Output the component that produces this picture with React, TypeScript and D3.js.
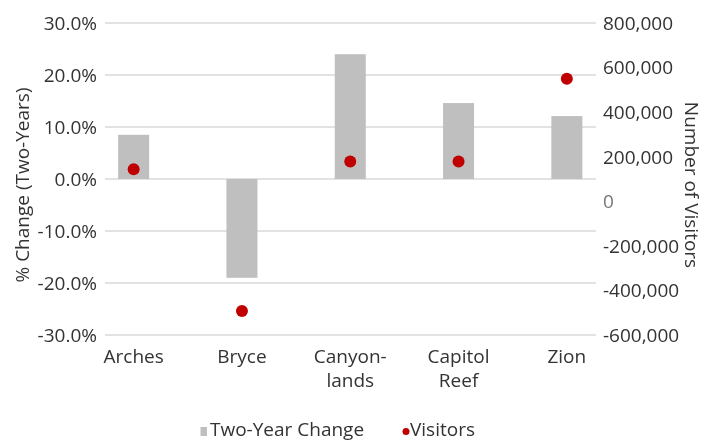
import React from "react";
import * as d3 from "d3";

const parks = ["Arches", "Bryce", "Canyon-lands", "Capitol Reef", "Zion"];
const parkLines = [["Arches"], ["Bryce"], ["Canyon-", "lands"], ["Capitol", "Reef"], ["Zion"]];
const twoYearChange = [0.085, -0.19, 0.24, 0.146, 0.121];
const visitors = [144000, -492000, 178000, 178000, 550000];
const pctTicks = [-0.3, -0.2, -0.1, 0, 0.1, 0.2, 0.3];
const visitorTicks = [-600000, -400000, -200000, 0, 200000, 400000, 600000, 800000];

const W = 704;
const H = 442;
const top = 23;
const bottom = 335;
const gridLeft = 105;
const gridRight = 596;
const font = "'Open Sans', 'Noto Sans', sans-serif";
const textColor = "#333";
const fs = 19;

// hyphen instead of d3's unicode minus, like the original
const hyphen = (s: string) => s.replace("\u2212", "-");

const App = () => {
  const x = d3.scaleBand().domain(parks).range([79.5, 621]).paddingInner(0.71).paddingOuter(0.355);
  const yPct = d3.scaleLinear().domain([-0.3, 0.3]).range([bottom, top]);
  const yVis = d3.scaleLinear().domain([-600000, 800000]).range([bottom, top]);
  const pctFmt = d3.format(".1%");
  const visFmt = d3.format(",");
  const barW = 31;
  const cx = (p: string) => x(p)! + x.bandwidth() / 2;

  return (
    <div style={{ position: "fixed", left: 0, top: 0, width: W, height: H, overflow: "hidden" }}>
      <svg width={W} height={H} style={{ display: "block", fontFamily: font }}>
        {/* gridlines */}
        {pctTicks.map((t) => (
          <line key={t} x1={gridLeft} x2={gridRight} y1={yPct(t)} y2={yPct(t)} stroke="#d9d9d9" strokeWidth={1.3} />
        ))}

        {/* bars */}
        {parks.map((p, i) => {
          const v = twoYearChange[i];
          return (
            <rect
              key={p}
              x={cx(p) - barW / 2}
              width={barW}
              y={Math.min(yPct(v), yPct(0))}
              height={Math.abs(yPct(v) - yPct(0))}
              fill="#bfbfbf"
            />
          );
        })}

        {/* visitor dots */}
        {parks.map((p, i) => (
          <circle key={p} cx={cx(p)} cy={yVis(visitors[i])} r={6} fill="#c00000" />
        ))}

        {/* left axis labels */}
        {pctTicks.map((t) => (
          <text key={t} x={97} y={yPct(t)} dy="0.36em" textAnchor="end" fontSize={fs} fill={textColor}>
            {hyphen(pctFmt(t))}
          </text>
        ))}

        {/* right axis labels */}
        {visitorTicks.map((t) => (
          <text
            key={t}
            x={603}
            y={yVis(t)}
            dy="0.36em"
            textAnchor="start"
            fontSize={fs}
            fill={t === 0 ? "#777" : textColor}
          >
            {hyphen(visFmt(t))}
          </text>
        ))}

        {/* category labels, one text per line */}
        {parks.map((p, i) =>
          parkLines[i].map((ln, j) => (
            <text key={p + j} x={cx(p)} y={363 + j * 24} textAnchor="middle" fontSize={fs} fill={textColor}>
              {ln}
            </text>
          ))
        )}

        {/* axis titles */}
        <text
          transform={`translate(29,${(top + bottom) / 2 + 6}) rotate(-90)`}
          textAnchor="middle"
          fontSize={fs}
          fill={textColor}
        >
          % Change (Two-Years)
        </text>
        <text
          transform={`translate(685,${(top + bottom) / 2 + 6}) rotate(90)`}
          textAnchor="middle"
          fontSize={fs}
          fill={textColor}
        >
          Number of Visitors
        </text>

        {/* legend */}
        <rect x={200.5} y={427} width={6.5} height={9} fill="#bfbfbf" />
        <text x={210} y={436} fontSize={fs} fill={textColor}>
          Two-Year Change
        </text>
        <circle cx={406} cy={431.5} r={3.5} fill="#c00000" />
        <text x={410} y={436} fontSize={fs} fill={textColor}>
          Visitors
        </text>
      </svg>
    </div>
  );
};

export default App;
